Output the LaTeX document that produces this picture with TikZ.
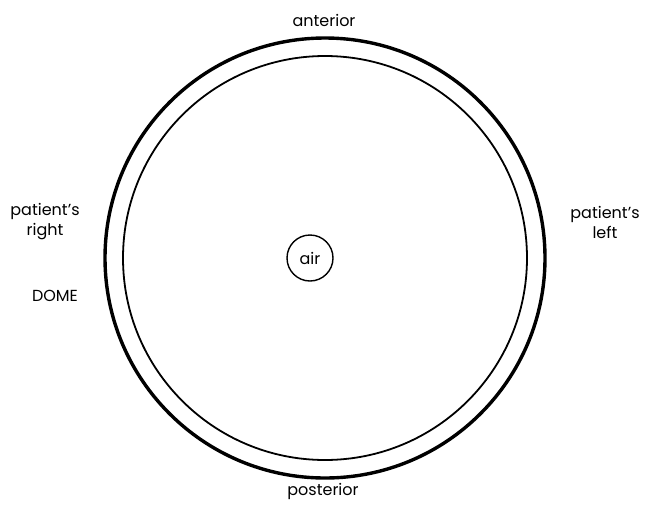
\documentclass[tikz,border=0pt]{standalone}
\usepackage{fontspec}
\setmainfont{Poppins}
\usetikzlibrary{positioning}
\tikzset{
  domeline/.style={draw=black,circle,inner sep=0pt},
  sidelabel/.style={align=center,font=\fontsize{8}{10}\selectfont,inner sep=0pt},
}

\begin{document}
\begin{tikzpicture}[x=0.5pt,y=-0.5pt]
  \useasboundingbox (0,0) rectangle (653,504);
  \node[domeline,line width=1.7pt,minimum size=220pt] (outer) at (325,258) {};
  \node[domeline,line width=0.9pt,minimum size=202pt] (inner) at (325,258) {};
  \node[domeline,line width=0.7pt,minimum size=23pt,font=\fontsize{8}{10}\selectfont] (air) at (310,258) {air};
  \node[sidelabel] (ant) at (324,20) {anterior};
  \node[sidelabel] (post) at (323,491) {posterior};
  \node[sidelabel] (right) at (45,222) {patient's\\right};
  \node[sidelabel] (left) at (605,222) {patient's\\left};
  \node[sidelabel] (dome) at (55,296) {DOME};
\end{tikzpicture}
\end{document}
